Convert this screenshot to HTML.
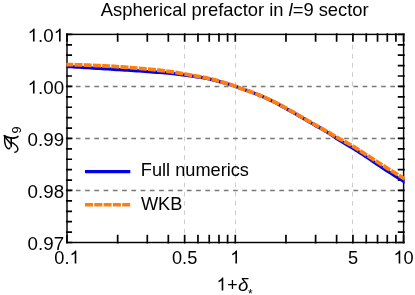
<!DOCTYPE html>
<html><head><meta charset="utf-8"><title>Aspherical prefactor</title>
<style>html,body{margin:0;padding:0;background:#fff;}svg{display:block;will-change:transform;font-family:"Liberation Sans",sans-serif;}</style></head><body>
<svg width="415" height="295" viewBox="0 0 415 295">
<rect width="415" height="295" fill="#fff"/>
<g fill="none">
<line x1="184.5" y1="242.5" x2="184.5" y2="34.4" stroke="#cdcdcd" stroke-width="1" stroke-dasharray="4.6 4.6"/>
<line x1="235.5" y1="242.5" x2="235.5" y2="34.4" stroke="#cdcdcd" stroke-width="1" stroke-dasharray="4.6 4.6"/>
<line x1="352.5" y1="242.5" x2="352.5" y2="34.4" stroke="#cdcdcd" stroke-width="1" stroke-dasharray="4.6 4.6"/>
<line x1="66.6" y1="86.5" x2="403.6" y2="86.5" stroke="#787878" stroke-width="1.35" stroke-dasharray="4.7 4.55"/>
<line x1="66.6" y1="138.5" x2="403.6" y2="138.5" stroke="#787878" stroke-width="1.35" stroke-dasharray="4.7 4.55"/>
<line x1="66.6" y1="190.5" x2="403.6" y2="190.5" stroke="#787878" stroke-width="1.35" stroke-dasharray="4.7 4.55"/>
</g>
<path d="M67.00,242.70V235.50M67.00,34.20V41.00M117.66,242.70V235.50M117.66,34.20V41.00M147.30,242.70V235.50M147.30,34.20V41.00M168.33,242.70V235.50M168.33,34.20V41.00M184.64,242.70V235.50M184.64,34.20V41.00M197.96,242.70V235.50M197.96,34.20V41.00M209.23,242.70V235.50M209.23,34.20V41.00M218.99,242.70V235.50M218.99,34.20V41.00M227.60,242.70V235.50M227.60,34.20V41.00M235.30,242.70V235.50M235.30,34.20V41.00M285.96,242.70V235.50M285.96,34.20V41.00M315.60,242.70V235.50M315.60,34.20V41.00M336.63,242.70V235.50M336.63,34.20V41.00M352.94,242.70V235.50M352.94,34.20V41.00M366.26,242.70V235.50M366.26,34.20V41.00M377.53,242.70V235.50M377.53,34.20V41.00M387.29,242.70V235.50M387.29,34.20V41.00M395.90,242.70V235.50M395.90,34.20V41.00M403.60,242.70V235.50M403.60,34.20V41.00M66.80,34.40H71.60M403.90,34.40H398.60M66.80,44.80H71.20M403.90,44.80H398.60M66.80,55.21H71.20M403.90,55.21H398.60M66.80,65.61H71.20M403.90,65.61H398.60M66.80,76.02H71.20M403.90,76.02H398.60M66.80,86.42H71.60M403.90,86.42H398.60M66.80,96.83H71.20M403.90,96.83H398.60M66.80,107.24H71.20M403.90,107.24H398.60M66.80,117.64H71.20M403.90,117.64H398.60M66.80,128.04H71.20M403.90,128.04H398.60M66.80,138.45H71.60M403.90,138.45H398.60M66.80,148.85H71.20M403.90,148.85H398.60M66.80,159.26H71.20M403.90,159.26H398.60M66.80,169.66H71.20M403.90,169.66H398.60M66.80,180.07H71.20M403.90,180.07H398.60M66.80,190.47H71.60M403.90,190.47H398.60M66.80,200.88H71.20M403.90,200.88H398.60M66.80,211.28H71.20M403.90,211.28H398.60M66.80,221.69H71.20M403.90,221.69H398.60M66.80,232.09H71.20M403.90,232.09H398.60M66.80,242.50H71.60M403.90,242.50H398.60" stroke="#000" stroke-width="1.7" stroke-linecap="square" fill="none"/>
<rect x="67.0" y="34.4" width="336.60" height="208.10" fill="none" stroke="#000" stroke-width="1.45"/>
<clipPath id="pc"><rect x="66.3" y="34.4" width="338.3" height="208.10"/></clipPath>
<g fill="none" stroke-linejoin="round" clip-path="url(#pc)"><path d="M65.0,66.30 L67.9,66.48 L70.7,66.65 L73.6,66.83 L76.4,67.01 L79.3,67.18 L82.2,67.36 L85.0,67.54 L87.9,67.72 L90.8,67.90 L93.6,68.07 L96.5,68.25 L99.3,68.43 L102.2,68.61 L105.1,68.79 L107.9,68.97 L110.8,69.15 L113.6,69.33 L116.5,69.50 L119.4,69.68 L122.2,69.86 L125.1,70.03 L127.9,70.21 L130.8,70.39 L133.7,70.58 L136.5,70.76 L139.4,70.96 L142.3,71.16 L145.1,71.36 L148.0,71.58 L150.8,71.79 L153.7,72.01 L156.6,72.23 L159.4,72.46 L162.3,72.67 L165.1,72.89 L168.0,73.12 L170.9,73.39 L173.7,73.70 L176.6,74.05 L179.5,74.42 L182.3,74.81 L185.2,75.19 L188.0,75.57 L190.9,75.96 L193.8,76.36 L196.6,76.78 L199.5,77.22 L202.3,77.68 L205.2,78.17 L208.1,78.71 L210.9,79.35 L213.8,80.06 L216.7,80.82 L219.5,81.61 L222.4,82.40 L225.2,83.20 L228.1,84.01 L231.0,84.87 L233.8,85.79 L236.7,86.85 L239.5,88.03 L242.4,89.05 L245.3,89.99 L248.1,90.93 L251.0,91.97 L253.8,93.06 L256.7,94.20 L259.6,95.37 L262.4,96.59 L265.3,97.84 L268.2,99.14 L271.0,100.48 L273.9,101.90 L276.7,103.38 L279.6,104.92 L282.5,106.49 L285.3,108.08 L288.2,109.69 L291.0,111.29 L293.9,112.91 L296.8,114.56 L299.6,116.23 L302.5,117.91 L305.4,119.60 L308.2,121.28 L311.1,122.94 L313.9,124.58 L316.8,126.20 L319.7,127.81 L322.5,129.43 L325.4,131.09 L328.2,132.81 L331.1,134.61 L334.0,136.57 L336.8,138.53 L339.7,140.36 L342.6,142.09 L345.4,143.78 L348.3,145.46 L351.1,147.16 L354.0,148.93 L356.9,150.73 L359.7,152.56 L362.6,154.41 L365.4,156.29 L368.3,158.23 L371.2,160.20 L374.0,162.17 L376.9,164.09 L379.7,165.99 L382.6,167.87 L385.5,169.75 L388.3,171.61 L391.2,173.47 L394.1,175.30 L396.9,177.13 L399.8,178.94 L402.6,180.73 L405.5,182.50" stroke="#0000f0" stroke-width="3.3"/>
<path d="M65.0,64.55 L67.9,64.59 L70.7,64.65 L73.6,64.71 L76.4,64.79 L79.3,64.87 L82.2,64.96 L85.0,65.07 L87.9,65.18 L90.8,65.29 L93.6,65.41 L96.5,65.54 L99.3,65.67 L102.2,65.81 L105.1,65.95 L107.9,66.09 L110.8,66.24 L113.6,66.40 L116.5,66.59 L119.4,66.79 L122.2,67.01 L125.1,67.24 L127.9,67.47 L130.8,67.72 L133.7,67.96 L136.5,68.21 L139.4,68.45 L142.3,68.69 L145.1,68.92 L148.0,69.16 L150.8,69.41 L153.7,69.67 L156.6,69.94 L159.4,70.24 L162.3,70.56 L165.1,70.93 L168.0,71.32 L170.9,71.72 L173.7,72.15 L176.6,72.60 L179.5,73.06 L182.3,73.53 L185.2,74.01 L188.0,74.51 L190.9,75.01 L193.8,75.53 L196.6,76.06 L199.5,76.60 L202.3,77.14 L205.2,77.70 L208.1,78.32 L210.9,78.99 L213.8,79.70 L216.7,80.45 L219.5,81.23 L222.4,82.05 L225.2,82.91 L228.1,83.80 L231.0,84.73 L233.8,85.69 L236.7,86.74 L239.5,87.93 L242.4,88.95 L245.3,89.89 L248.1,90.83 L251.0,91.87 L253.8,92.96 L256.7,94.08 L259.6,95.25 L262.4,96.45 L265.3,97.69 L268.2,98.97 L271.0,100.29 L273.9,101.67 L276.7,103.12 L279.6,104.63 L282.5,106.17 L285.3,107.73 L288.2,109.31 L291.0,110.89 L293.9,112.49 L296.8,114.13 L299.6,115.78 L302.5,117.45 L305.4,119.13 L308.2,120.79 L311.1,122.44 L313.9,124.07 L316.8,125.70 L319.7,127.32 L322.5,128.94 L325.4,130.57 L328.2,132.22 L331.1,133.89 L334.0,135.57 L336.8,137.23 L339.7,138.85 L342.6,140.43 L345.4,141.99 L348.3,143.57 L351.1,145.20 L354.0,146.90 L356.9,148.67 L359.7,150.50 L362.6,152.35 L365.4,154.23 L368.3,156.10 L371.2,157.96 L374.0,159.80 L376.9,161.62 L379.7,163.43 L382.6,165.24 L385.5,167.04 L388.3,168.83 L391.2,170.62 L394.1,172.39 L396.9,174.16 L399.8,175.92 L402.6,177.66 L405.5,179.40" stroke="#ff7f0e" stroke-width="3.8" stroke-dasharray="8.0 1.2" stroke-dashoffset="-0.3"/></g>
<g font-size="18.2" fill="#000">
<path transform="translate(27.61,41.50) scale(0.009153,-0.008887)" d="M763 0L583 0L583 1147Q518 1085 412.5 1023Q307 961 223 930L223 1104Q374 1175 487 1276Q600 1377 647 1472L763 1472Z"/><text transform="translate(38.04,41.50) scale(1.03,1.04)">.</text><text transform="translate(43.25,41.50) scale(1.03,1.04)">0</text><path transform="translate(53.67,41.50) scale(0.009153,-0.008887)" d="M763 0L583 0L583 1147Q518 1085 412.5 1023Q307 961 223 930L223 1104Q374 1175 487 1276Q600 1377 647 1472L763 1472Z"/>
<path transform="translate(27.61,93.53) scale(0.009153,-0.008887)" d="M763 0L583 0L583 1147Q518 1085 412.5 1023Q307 961 223 930L223 1104Q374 1175 487 1276Q600 1377 647 1472L763 1472Z"/><text transform="translate(38.04,93.53) scale(1.03,1.04)">.</text><text transform="translate(43.25,93.53) scale(1.03,1.04)">0</text><text transform="translate(53.67,93.53) scale(1.03,1.04)">0</text>
<text transform="translate(27.61,145.55) scale(1.03,1.04)">0</text><text transform="translate(38.04,145.55) scale(1.03,1.04)">.</text><text transform="translate(43.25,145.55) scale(1.03,1.04)">9</text><text transform="translate(53.67,145.55) scale(1.03,1.04)">9</text>
<text transform="translate(27.61,197.58) scale(1.03,1.04)">0</text><text transform="translate(38.04,197.58) scale(1.03,1.04)">.</text><text transform="translate(43.25,197.58) scale(1.03,1.04)">9</text><text transform="translate(53.67,197.58) scale(1.03,1.04)">8</text>
<text transform="translate(27.61,249.60) scale(1.03,1.04)">0</text><text transform="translate(38.04,249.60) scale(1.03,1.04)">.</text><text transform="translate(43.25,249.60) scale(1.03,1.04)">9</text><text transform="translate(53.67,249.60) scale(1.03,1.04)">7</text>
<text transform="translate(54.35,263.60) scale(1.0,1.04)">0</text><text transform="translate(64.47,263.60) scale(1.0,1.04)">.</text><path transform="translate(69.53,263.60) scale(0.008887,-0.008887)" d="M763 0L583 0L583 1147Q518 1085 412.5 1023Q307 961 223 930L223 1104Q374 1175 487 1276Q600 1377 647 1472L763 1472Z"/>
<text transform="translate(171.99,263.60) scale(1.0,1.04)">0</text><text transform="translate(182.11,263.60) scale(1.0,1.04)">.</text><text transform="translate(187.16,263.60) scale(1.0,1.04)">5</text>
<path transform="translate(230.24,263.60) scale(0.008887,-0.008887)" d="M763 0L583 0L583 1147Q518 1085 412.5 1023Q307 961 223 930L223 1104Q374 1175 487 1276Q600 1377 647 1472L763 1472Z"/>
<text transform="translate(347.88,263.60) scale(1.0,1.04)">5</text>
<path transform="translate(393.48,263.60) scale(0.008887,-0.008887)" d="M763 0L583 0L583 1147Q518 1085 412.5 1023Q307 961 223 930L223 1104Q374 1175 487 1276Q600 1377 647 1472L763 1472Z"/><text transform="translate(403.60,263.60) scale(1.0,1.04)">0</text>
<text x="100.8" y="15.5" font-size="18.36">Aspherical prefactor in <tspan font-style="italic">l</tspan>=9 sector</text>
<text x="140.8" y="176.4">Full numerics</text>
<text transform="translate(140.9,210.1) scale(1,1.03)">WKB</text>
<path transform="translate(216.5,290.6) scale(0.008887,-0.008887)" d="M763 0L583 0L583 1147Q518 1085 412.5 1023Q307 961 223 930L223 1104Q374 1175 487 1276Q600 1377 647 1472L763 1472Z"/><text x="227.2" y="290.5" font-size="17.8">+</text><text x="237.9" y="290.6" font-size="18.8" font-style="italic">δ</text><text x="250.3" y="298.3" font-size="12" text-anchor="middle">*</text>
</g>
<line x1="85" y1="171.6" x2="130.3" y2="171.6" stroke="#0000f0" stroke-width="3.3"/>
<line x1="85" y1="204.75" x2="130.3" y2="204.75" stroke="#ff7f0e" stroke-width="3.5" stroke-dasharray="8.0 1.3"/>
<g transform="translate(0.2,0.6)" fill="none" stroke="#000" stroke-width="1.45" stroke-linecap="round" stroke-linejoin="round">
<path stroke-width="1.8" d="M4.1,135.1 Q7,136.8 10.2,137.2 T14.3,137.3 Q16.5,137.2 17.7,135.9"/>
<path d="M4.6,135.7 Q4.2,139 4.6,141.7 Q5,144.6 6.1,146.3 Q7.4,148.3 8.8,148.2 Q9.5,148.1 9.7,147.2"/>
<path d="M4.7,136.4 L10.8,143.4"/>
<path stroke-width="1.6" d="M11.0,137.2 L11.0,146.0"/>
<path d="M11.2,141.8 Q13,142.3 14.7,143.9 Q16.6,145.2 17.3,146.9 Q18,148.6 17.3,149.9 Q16.5,151.4 14.7,151.6"/>
</g>
<text transform="translate(21.0,130.0) rotate(-90)" font-size="12.6" text-anchor="middle" fill="#000">9</text>
</svg></body></html>
